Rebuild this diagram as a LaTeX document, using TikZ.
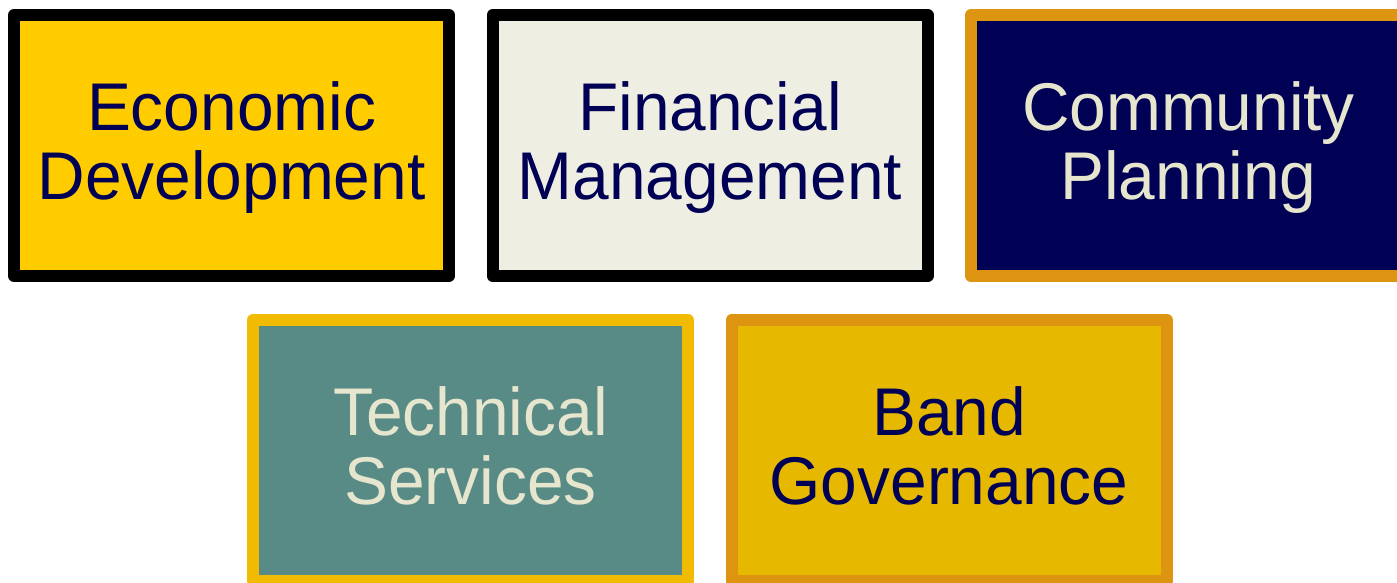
\documentclass[tikz,border=0pt]{standalone}
\usepackage{fontspec}
\setmainfont[FakeStretch=0.975]{Liberation Sans}
\definecolor{navy}{HTML}{000055}
\definecolor{cream}{HTML}{E6E6CF}
\definecolor{gold}{HTML}{FFCC00}
\definecolor{paper}{HTML}{EEEEE2}
\definecolor{teal}{HTML}{588A86}
\definecolor{mustard}{HTML}{E6B800}
\definecolor{amber}{HTML}{DD9511}
\definecolor{yellowline}{HTML}{F0BB00}
\tikzset{
  box/.style={draw, rectangle, line width=12pt, line join=round, inner sep=0pt,
    minimum width=435pt, minimum height=261pt},
  label/.style={anchor=north, inner sep=0pt, align=center,
    font=\fontsize{67.5}{69.5}\selectfont},
}
\begin{document}
\begin{tikzpicture}[x=1pt,y=-1pt]
\useasboundingbox (0,0) rectangle (1397,582);
\clip (0,0) rectangle (1397,582);
\node[box, draw=black, fill=gold] (econ) at (231.5,145.5) {};
\node[box, draw=black, fill=paper] (fin) at (710,145.5) {};
\node[box, draw=amber, fill=navy] (comm) at (1188.5,145.5) {};
\node[box, draw=yellowline, fill=teal] (tech) at (470.5,450.5) {};
\node[box, draw=amber, fill=mustard] (band) at (949,450.5) {};
\node[label, text=navy] (econ-t) at ([yshift=64.5pt]econ.center) {Economic\\Development};
\node[label, text=navy] (fin-t) at ([yshift=64.5pt]fin.center) {Financial\\Management};
\node[label, text=cream] (comm-t) at ([yshift=64.5pt]comm.center) {Community\\Planning};
\node[label, text=cream] (tech-t) at ([yshift=64.5pt]tech.center) {Technical\\Services};
\node[label, text=navy] (band-t) at ([yshift=64.5pt]band.center) {Band\\Governance};
\end{tikzpicture}
\end{document}
